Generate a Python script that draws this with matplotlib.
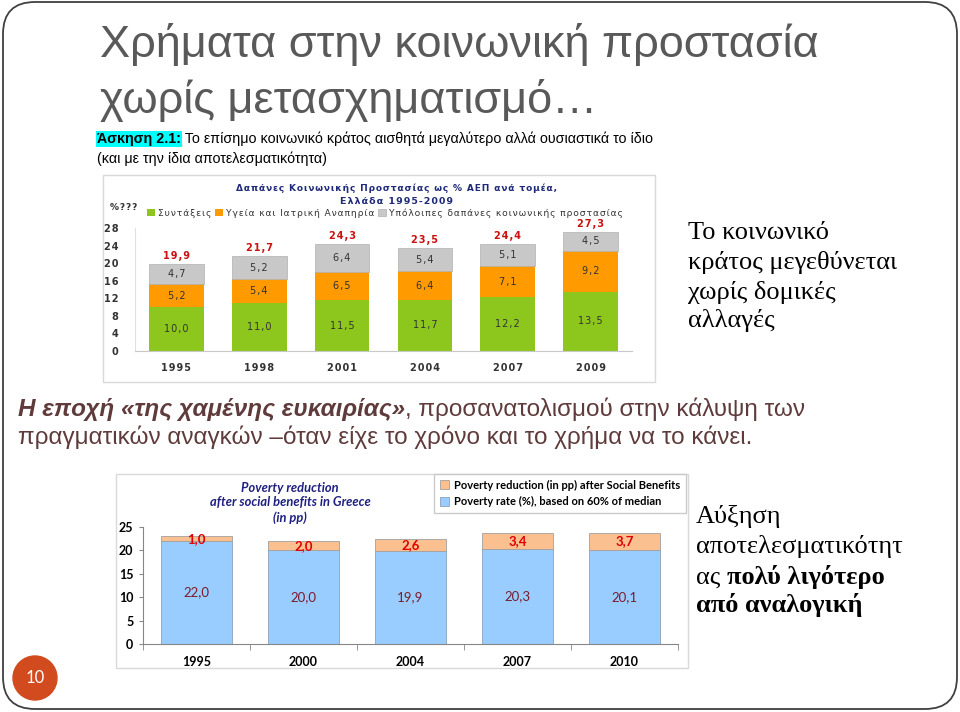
import numpy as np
import matplotlib.pyplot as plt
from matplotlib.patches import FancyBboxPatch, Rectangle, Circle

W, H = 960, 712

# chart 1: social protection spending, % of GDP
years1 = ['1995', '1998', '2001', '2004', '2007', '2009']
pensions = [10.0, 11.0, 11.5, 11.7, 12.2, 13.5]
health = [5.2, 5.4, 6.5, 6.4, 7.1, 9.2]
other = [4.7, 5.2, 6.4, 5.4, 5.1, 4.5]
totals = [19.9, 21.7, 24.3, 23.5, 24.4, 27.3]
labels1 = ['Συντάξεις', 'Υγεία και Ιατρική Αναπηρία',
           'Υπόλοιπες δαπάνες κοινωνικής προστασίας']

# chart 2: poverty reduction after social benefits
years2 = ['1995', '2000', '2004', '2007', '2010']
poverty_rate = [22.0, 20.0, 19.9, 20.3, 20.1]
poverty_reduction = [1.0, 2.0, 2.6, 3.4, 3.7]
labels2 = ['Poverty reduction (in pp) after Social Benefits',
           'Poverty rate (%), based on 60% of median']

NARROW = ['Liberation Sans', 'DejaVu Sans']
SERIF = ['Liberation Serif', 'DejaVu Serif']
CAL = ['Lato', 'DejaVu Sans']


def sp(s):
    """fake letter spacing with hair spaces"""
    return '\u200a'.join(s)


def num(v):
    return f'{v:.1f}'.replace('.', ',')


def px_axes(l, t, r, b):
    return fig.add_axes([l / W, 1 - b / H, (r - l) / W, (b - t) / H])


def chain(prev, text, **kw):
    return bg.annotate(text, xy=(1, 0), xycoords=prev, ha='left', va='bottom', **kw)


fig = plt.figure(figsize=(W / 100, H / 100), dpi=100)

# slide background in pixel coordinates
bg = fig.add_axes([0, 0, 1, 1])
bg.set_xlim(0, W)
bg.set_ylim(H, 0)
bg.axis('off')
bg.add_patch(FancyBboxPatch((3, 2), 954, 707, boxstyle='round,pad=0,rounding_size=32',
                            fc='white', ec='#404040', lw=1.3))
bg.add_patch(Circle((35, 678), 22, color='#D24B1E'))
bg.text(35, 678, '10', color='white', fontsize=12, ha='center', va='center', family=CAL)

# title
bg.text(100, 45, 'Χρήματα στην κοινωνική προστασία', fontsize=32.5, color='#595959',
        family=NARROW, va='center')
bg.text(100, 100, 'χωρίς μετασχηματισμό…', fontsize=32.5, color='#595959',
        family=NARROW, va='center')

t_ex = bg.text(97, 146, 'Άσκηση 2.1:', fontsize=10.3, weight='bold', family=NARROW,
               va='bottom', color='black',
               bbox=dict(fc='#00FFFF', ec='none', pad=0.5))
chain(t_ex, ' Το επίσημο κοινωνικό κράτος αισθητά μεγαλύτερο αλλά ουσιαστικά το ίδιο',
      fontsize=10.3, family=NARROW, color='black')
bg.text(97, 166, '(και με την ίδια αποτελεσματικότητα)', fontsize=10.3, family=NARROW,
        va='bottom', color='black')

# chart frames
bg.add_patch(Rectangle((103, 175), 552, 207, fc='white', ec='#D9D9D9', lw=1))
bg.add_patch(Rectangle((116, 474), 572, 194, fc='white', ec='#D9D9D9', lw=1))

# chart 1
ax1 = px_axes(135, 228, 632, 351)
ax1.set_zorder(2)
ax1.patch.set_alpha(0)
x1 = np.arange(len(years1))
b_p = ax1.bar(x1, pensions, 0.66, color='#8DC71E')
b_h = ax1.bar(x1, health, 0.66, bottom=pensions, color='#FF9A00')
bot = np.add(pensions, health)
b_o = ax1.bar(x1, other, 0.66, bottom=bot, color='#C8C8C8', ec='#B0B0B0', lw=0.5)
for bars, vals in [(b_p, pensions), (b_h, health), (b_o, other)]:
    ax1.bar_label(bars, labels=[sp(num(v)) for v in vals], label_type='center',
                  fontsize=7, color='#333333')
ax1.bar_label(b_o, labels=[sp(num(v)) for v in totals], padding=2, fontsize=7,
              color='#CC1010', weight='bold')
ax1.set_xlim(-0.5, len(years1) - 0.5)
ax1.set_ylim(0, 28)
ax1.set_yticks(range(0, 29, 4))
ax1.set_yticklabels([sp(str(v)) for v in range(0, 29, 4)], fontsize=7, weight='bold',
                    color='#333333')
ax1.set_xticks(x1)
ax1.set_xticklabels([sp(y) for y in years1], fontsize=7, weight='bold', color='#333333')
ax1.tick_params(length=0)
ax1.tick_params(axis='x', pad=9)
ax1.tick_params(axis='y', pad=12)
for s in ['top', 'right']:
    ax1.spines[s].set_visible(False)
ax1.spines['left'].set_color('#E0E0E0')
ax1.spines['bottom'].set_color('#C8C8C8')

bg.text(110, 208, sp('%???'), fontsize=6.5, weight='bold', color='#333333', va='center')
bg.text(396, 188, sp('Δαπάνες Κοινωνικής Προστασίας ως % ΑΕΠ ανά τομέα,'),
        fontsize=6.5, weight='bold', color='#1F2A7A', ha='center', va='center')
bg.text(396, 202, sp('Ελλάδα 1995-2009'), fontsize=6.8, weight='bold', color='#1F2A7A',
        ha='center', va='center')
fig.legend([b_p, b_h, b_o], [sp(l) for l in labels1], ncol=3, frameon=False,
           loc='center left', bbox_to_anchor=(147 / W, 1 - 213 / H), fontsize=6.6,
           handlelength=0.9, handleheight=0.9, handletextpad=0.3, columnspacing=0.4,
           borderpad=0, borderaxespad=0, labelcolor='#333333')

# chart 2
ax2 = px_axes(143, 527, 678, 644)
ax2.set_zorder(2)
ax2.patch.set_alpha(0)
x2 = np.arange(len(years2))
b_r = ax2.bar(x2, poverty_rate, 0.67, color='#99CCFF', ec='#8EA2B8', lw=0.6)
b_d = ax2.bar(x2, poverty_reduction, 0.67, bottom=poverty_rate, color='#FAC090',
              ec='#A0A0A0', lw=0.6)
ax2.bar_label(b_r, labels=[num(v) for v in poverty_rate], label_type='center',
              fontsize=9.5, color='#7B1C2C', family=CAL)
ax2.bar_label(b_d, labels=[num(v) for v in poverty_reduction], label_type='center',
              fontsize=9.5, color='#E00000', weight='bold', family=CAL)
ax2.set_xlim(-0.5, len(years2) - 0.5)
ax2.set_ylim(0, 25)
ax2.set_yticks(range(0, 26, 5))
ax2.set_xticks(x2)
ax2.set_xticklabels(years2)
ax2.set_xticks(np.arange(len(years2) + 1) - 0.5, minor=True)
ax2.tick_params(axis='x', which='major', length=0, pad=9)
ax2.tick_params(axis='x', which='minor', length=4, color='#868686')
ax2.tick_params(axis='y', length=3, color='#868686', pad=4)
for lab in ax2.get_xticklabels() + ax2.get_yticklabels():
    lab.set_fontsize(9)
    lab.set_weight('bold')
    lab.set_family(CAL)
for s in ['top', 'right']:
    ax2.spines[s].set_visible(False)
ax2.spines['left'].set_color('#868686')
ax2.spines['bottom'].set_color('#868686')

for txt, yy in [('Poverty reduction', 488), ('after social benefits in Greece', 502),
                ('(in pp)', 518)]:
    bg.text(290, yy, txt, fontsize=9.3, style='italic', weight='bold', color='#1F2080',
            ha='center', va='center', family=CAL)
fig.legend([b_d, b_r], labels2, loc='upper right', bbox_to_anchor=(686 / W, 1 - 474 / H),
           prop=dict(family=CAL, weight='bold', size=8), frameon=True,
           fancybox=False, edgecolor='#BFBFBF', handlelength=0.8, handleheight=0.8,
           handletextpad=0.5, borderaxespad=0, labelspacing=0.5, borderpad=0.5)

# middle text
COL = '#5F3B3B'
t1 = bg.text(18, 421, 'Η εποχή «της χαμένης ευκαιρίας»', fontsize=17.5, weight='bold',
             style='italic', family=NARROW, color=COL, va='bottom')
chain(t1, ', προσανατολισμού στην κάλυψη των', fontsize=17.5, family=NARROW, color=COL)
bg.text(18, 449, 'πραγματικών αναγκών –όταν είχε το χρόνο και το χρήμα να το κάνει.',
        fontsize=17.5, family=NARROW, color=COL, va='bottom')

# side notes
for txt, yy in [('Το κοινωνικό', 233), ('κράτος μεγεθύνεται', 262),
                ('χωρίς δομικές', 292), ('αλλαγές', 320)]:
    bg.text(688, yy, txt, fontsize=19, family=SERIF, color='black', va='center')
bg.text(696, 517, 'Αύξηση', fontsize=19, family=SERIF, color='black', va='center')
bg.text(696, 547, 'αποτελεσματικότητ', fontsize=19, family=SERIF, color='black',
        va='center')
t3 = bg.text(696, 589, 'ας ', fontsize=19, family=SERIF, color='black', va='bottom')
chain(t3, 'πολύ λιγότερο', fontsize=19, family=SERIF, color='black', weight='bold')
bg.text(696, 617, 'από αναλογική', fontsize=19, family=SERIF, color='black',
        weight='bold', va='bottom')

# underline the exercise label
fig.canvas.draw()
ext = t_ex.get_window_extent()
inv = bg.transData.inverted()
(x0, y0), (x1_, _) = inv.transform([(ext.x0, ext.y0), (ext.x1, ext.y0)])
bg.plot([x0, x1_], [y0 - 1, y0 - 1], color='black', lw=1)

fig.savefig('out.png', dpi=100)
